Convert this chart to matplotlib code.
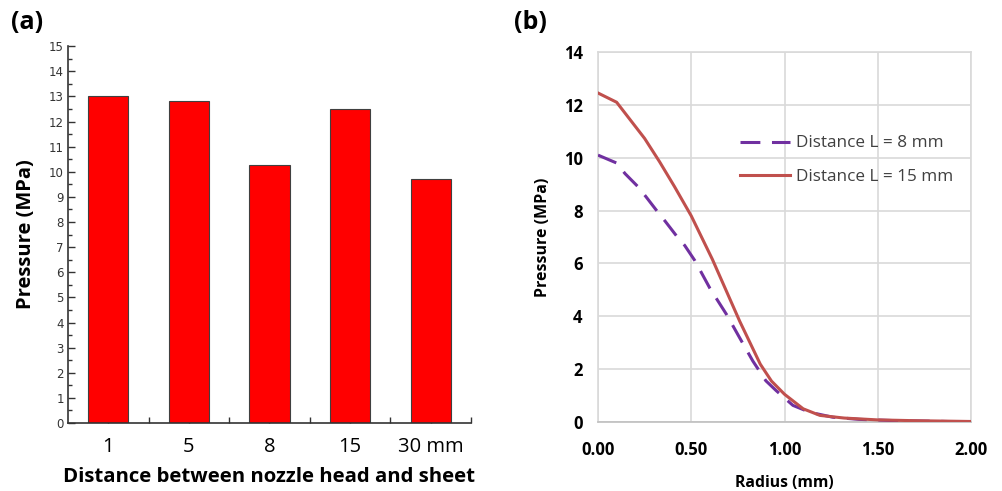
import numpy as np
import matplotlib.pyplot as plt
from matplotlib.ticker import MultipleLocator, FixedLocator

# (a) peak pressure vs. nozzle distance
distances = ["1", "5", "8", "15", "30 mm"]
peak_pressure = [13.0, 12.8, 10.25, 12.5, 9.72]

# (b) radial pressure profiles
radius_8 = [0.0, 0.10, 0.145, 0.215, 0.26, 0.32, 0.36, 0.42, 0.465, 0.52, 0.60, 0.69, 0.76, 0.83, 0.90,
            0.955, 1.045, 1.135, 1.26, 1.40, 1.60, 1.80, 2.00]
press_8 = [10.1, 9.8, 9.4, 8.9, 8.5, 7.95, 7.6, 7.05, 6.68, 6.1, 5.06, 4.06, 3.18, 2.31, 1.56,
           1.19, 0.63, 0.37, 0.18, 0.10, 0.05, 0.03, 0.0]
radius_15 = [0.0, 0.10, 0.25, 0.33, 0.41, 0.50, 0.613, 0.643, 0.76, 0.87, 0.93, 1.00, 1.10, 1.19, 1.32,
             1.50, 1.70, 2.00]
press_15 = [12.45, 12.1, 10.73, 9.85, 8.91, 7.8, 6.16, 5.68, 3.81, 2.19, 1.55, 1.05, 0.5, 0.25, 0.15,
            0.08, 0.05, 0.02]

fig = plt.figure(figsize=(10.02, 4.91), dpi=100)

# ---- panel (a) ----
ax1 = fig.add_axes([0.0679, 0.1385, 0.4021, 0.7675])
pos = np.arange(1, len(distances) + 1)
ax1.bar(pos, peak_pressure, width=0.5, color="#ff0000", edgecolor="#404040", linewidth=0.8, zorder=2)
ax1.set_xlim(0.5, 5.5)
ax1.set_ylim(0, 15)
ax1.spines["top"].set_visible(False)
ax1.spines["right"].set_visible(False)
for s in ["left", "bottom"]:
    ax1.spines[s].set_color("#333333")
    ax1.spines[s].set_linewidth(1.2)
ax1.yaxis.set_major_locator(MultipleLocator(1))
ax1.yaxis.set_minor_locator(MultipleLocator(0.5))
ax1.xaxis.set_major_locator(FixedLocator(pos))
ax1.xaxis.set_minor_locator(FixedLocator(pos + 0.5))
ax1.set_xticklabels(distances, family="Open Sans", fontsize=14.5)
ax1.tick_params(axis="y", which="major", direction="in", length=5, width=1, color="#333333",
                labelsize=8.5, labelcolor="#333333", pad=3)
ax1.tick_params(axis="y", which="minor", direction="in", length=3, width=1, color="#333333")
ax1.tick_params(axis="x", which="major", direction="in", length=7, width=1, color="#333333", pad=10)
ax1.tick_params(axis="x", which="minor", direction="in", length=4, width=1, color="#333333")
ax1.set_ylabel("Pressure (MPa)", family="Open Sans", fontweight="bold", fontsize=14.5, labelpad=9)
ax1.set_xlabel("Distance between nozzle head and sheet", family="Open Sans", fontweight="bold",
               fontsize=14.7, labelpad=7)
fig.text(0.011, 0.955, "(a)", family="Open Sans", fontweight="bold", fontsize=18, va="center")

# ---- panel (b) ----
ax2 = fig.add_axes([0.5968, 0.1405, 0.3723, 0.7535])
ax2.plot(radius_8, press_8, color="#7030a0", linewidth=2.2, dashes=(6.5, 3.8),
         label="Distance L = 8 mm", zorder=3)
ax2.plot(radius_15, press_15, color="#c0504d", linewidth=2.2, label="Distance L = 15 mm", zorder=3)
ax2.set_xlim(0, 2)
ax2.set_ylim(0, 14)
ax2.xaxis.set_major_locator(MultipleLocator(0.5))
ax2.yaxis.set_major_locator(MultipleLocator(2))
ax2.xaxis.set_major_formatter(lambda v, p: f"{v:.2f}")
ax2.grid(True, color="#d9d9d9", linewidth=1.2)
ax2.set_axisbelow(True)
for s in ax2.spines.values():
    s.set_color("#d9d9d9")
    s.set_linewidth(1.2)
ax2.spines["bottom"].set_color("#bfbfbf")
ax2.tick_params(length=0, labelsize=12)
ax2.tick_params(axis="x", pad=14)
ax2.tick_params(axis="y", pad=11)
for lab in ax2.get_xticklabels() + ax2.get_yticklabels():
    lab.set_family("Open Sans")
    lab.set_fontweight("bold")
ax2.set_ylabel("Pressure (MPa)", family="Open Sans", fontweight="bold", fontsize=11.5, labelpad=9)
ax2.set_xlabel("Radius (mm)", family="Open Sans", fontweight="bold", fontsize=11.3, labelpad=11)
leg = ax2.legend(loc="upper left", bbox_to_anchor=(0.34, 0.816), frameon=False, fontsize=12.3,
                 handlelength=2.9, labelspacing=1.05, handletextpad=0.35)
for t in leg.get_texts():
    t.set_family("Open Sans")
    t.set_color("#404040")
fig.text(0.513, 0.955, "(b)", family="Open Sans", fontweight="bold", fontsize=18, va="center")

fig.savefig("out.png", dpi=100)
